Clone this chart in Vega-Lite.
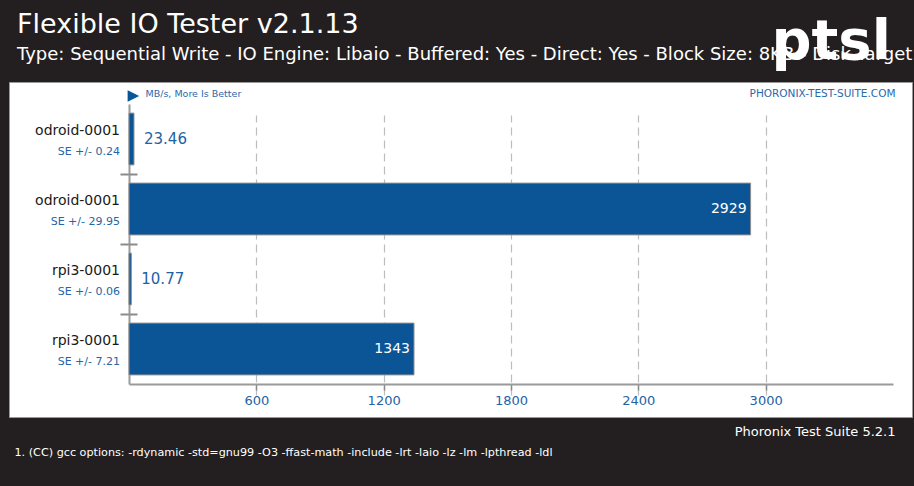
{
  "$schema": "https://vega.github.io/schema/vega-lite/v6.json",
  "width": 903,
  "height": 335,
  "autosize": "none",
  "padding": {"left": 9, "top": 82, "right": 2, "bottom": 69},
  "background": "#231f20",
  "config": {
    "view": {"fill": "#ffffff", "stroke": "#9a9a9a", "strokeWidth": 1},
    "font": "DejaVu Sans"
  },
  "title": {
    "text": "Flexible IO Tester v2.1.13",
    "subtitle": "Type: Sequential Write - IO Engine: Libaio - Buffered: Yes - Direct: Yes - Block Size: 8KB - Disk Target: Default Test Directory",
    "anchor": "start",
    "frame": "group",
    "orient": "top",
    "offset": -52,
    "dx": 8,
    "color": "#ffffff",
    "font": "DejaVu Sans",
    "fontSize": 27,
    "fontWeight": "normal",
    "subtitleColor": "#ffffff",
    "subtitleFont": "DejaVu Sans",
    "subtitleFontSize": 18,
    "subtitlePadding": 7
  },
  "data": {
    "values": [
      {"id": "1", "name": "odroid-0001", "se": "SE +/- 0.24", "value": 23.46},
      {"id": "2", "name": "odroid-0001", "se": "SE +/- 29.95", "value": 2929},
      {"id": "3", "name": "rpi3-0001", "se": "SE +/- 0.06", "value": 10.77},
      {"id": "4", "name": "rpi3-0001", "se": "SE +/- 7.21", "value": 1343}
    ]
  },
  "layer": [
    {
      "mark": {"type": "bar", "height": {"band": 0.74}, "fill": "#0b5596", "stroke": "#8f8f8f", "strokeWidth": 1},
      "encoding": {
        "x": {
          "field": "value", "type": "quantitative",
          "scale": {"domain": [0, 3600], "range": [120, 884], "nice": false, "zero": true},
          "axis": {
            "orient": "bottom", "offset": -33,
            "values": [600, 1200, 1800, 2400, 3000], "format": "d",
            "grid": true, "gridColor": "#bdbdbd", "gridDash": [8, 5], "gridWidth": 1.2,
            "domainColor": "#9a9a9a", "domainWidth": 2,
            "tickColor": "#8a8a8a", "tickSize": 6, "tickWidth": 1.5,
            "labelColor": "#2463a5", "labelFont": "DejaVu Sans", "labelFontSize": 13, "labelPadding": 4, "labelFlush": false,
            "title": "Phoronix Test Suite 5.2.1",
            "titleX": 886, "titleY": 51, "titleAlign": "right", "titleBaseline": "alphabetic", "titleAngle": 0,
            "titleColor": "#ffffff", "titleFont": "DejaVu Sans", "titleFontSize": 13, "titleFontWeight": "normal"
          }
        },
        "y": {
          "field": "id", "type": "nominal", "sort": null,
          "scale": {"range": [22, 302], "paddingInner": 0, "paddingOuter": 0},
          "axis": {
            "orient": "left", "offset": -120,
            "labels": false, "grid": false,
            "domainColor": "#9a9a9a", "domainWidth": 2,
            "ticks": true, "tickColor": "#8a8a8a", "tickSize": 9, "tickWidth": 2, "bandPosition": 1,
            "values": ["1", "2", "3"],
            "title": "1. (CC) gcc options: -rdynamic -std=gnu99 -O3 -ffast-math -include -lrt -laio -lz -lm -lpthread -ldl",
            "titleAngle": 0, "titleX": -115, "titleY": 373, "titleAlign": "left", "titleBaseline": "alphabetic",
            "titleColor": "#ffffff", "titleFont": "DejaVu Sans", "titleFontSize": 11.2, "titleFontWeight": "normal"
          }
        }
      }
    },
    {
      "mark": {"type": "text", "align": "right", "baseline": "middle", "dx": -9, "dy": -8, "font": "DejaVu Sans", "fontSize": 14, "color": "#1a1a1a"},
      "encoding": {
        "x": {
          "datum": 0, "type": "quantitative",
          "axis": {
            "orient": "top", "domain": false, "ticks": false, "labels": false, "grid": false,
            "title": "PHORONIX-TEST-SUITE.COM",
            "titleX": 886, "titleY": 14, "titleAlign": "right", "titleBaseline": "alphabetic", "titleAngle": 0,
            "titleColor": "#2a6aab", "titleFont": "DejaVu Sans", "titleFontSize": 10.5, "titleFontWeight": "normal"
          }
        },
        "y": {
          "field": "id", "type": "nominal", "sort": null,
          "axis": {
            "orient": "right", "domain": false, "ticks": false, "labels": false, "grid": false,
            "title": "ptsl",
            "titleAngle": 0, "titleX": -141, "titleY": -24, "titleAlign": "left", "titleBaseline": "alphabetic",
            "titleColor": "#ffffff", "titleFont": "DejaVu Sans", "titleFontSize": 56, "titleFontWeight": "bold"
          }
        },
        "text": {"field": "name"}
      }
    },
    {
      "mark": {"type": "text", "align": "right", "baseline": "middle", "dx": -9, "dy": 13, "font": "DejaVu Sans", "fontSize": 11, "color": "#2466a8"},
      "encoding": {
        "x": {
          "datum": 0, "type": "quantitative",
          "axis": {
            "orient": "top", "domain": false, "ticks": false, "labels": false, "grid": false,
            "title": "▶",
            "titleX": 118, "titleY": 17, "titleAlign": "left", "titleBaseline": "alphabetic", "titleAngle": 0,
            "titleColor": "#0b5596", "titleFont": "DejaVu Sans", "titleFontSize": 15, "titleFontWeight": "normal"
          }
        },
        "y": {
          "field": "id", "type": "nominal", "sort": null,
          "axis": {
            "orient": "left", "offset": -120, "domain": false, "labels": false, "grid": false,
            "ticks": true, "tickColor": "#8a8a8a", "tickSize": -8, "tickWidth": 2, "bandPosition": 1,
            "values": ["1", "2", "3"], "title": null
          }
        },
        "text": {"field": "se"}
      }
    },
    {
      "transform": [{"filter": "datum.value < 500"}],
      "mark": {"type": "text", "align": "left", "baseline": "middle", "dx": 10, "font": "DejaVu Sans", "fontSize": 15, "color": "#1e62a3"},
      "encoding": {
        "x": {
          "field": "value", "type": "quantitative",
          "axis": {
            "orient": "top", "domain": false, "ticks": false, "labels": false, "grid": false,
            "title": "MB/s, More Is Better",
            "titleX": 136, "titleY": 14, "titleAlign": "left", "titleBaseline": "alphabetic", "titleAngle": 0,
            "titleColor": "#2a6aab", "titleFont": "DejaVu Sans", "titleFontSize": 9.5, "titleFontWeight": "normal"
          }
        },
        "y": {"field": "id", "type": "nominal", "sort": null, "axis": null},
        "text": {"field": "value", "type": "quantitative"}
      }
    },
    {
      "transform": [{"filter": "datum.value >= 500"}],
      "mark": {"type": "text", "align": "right", "baseline": "middle", "dx": -4, "font": "DejaVu Sans", "fontSize": 14, "color": "#ffffff"},
      "encoding": {
        "x": {"field": "value", "type": "quantitative", "axis": null},
        "y": {"field": "id", "type": "nominal", "sort": null, "axis": null},
        "text": {"field": "value", "type": "quantitative"}
      }
    }
  ]
}
